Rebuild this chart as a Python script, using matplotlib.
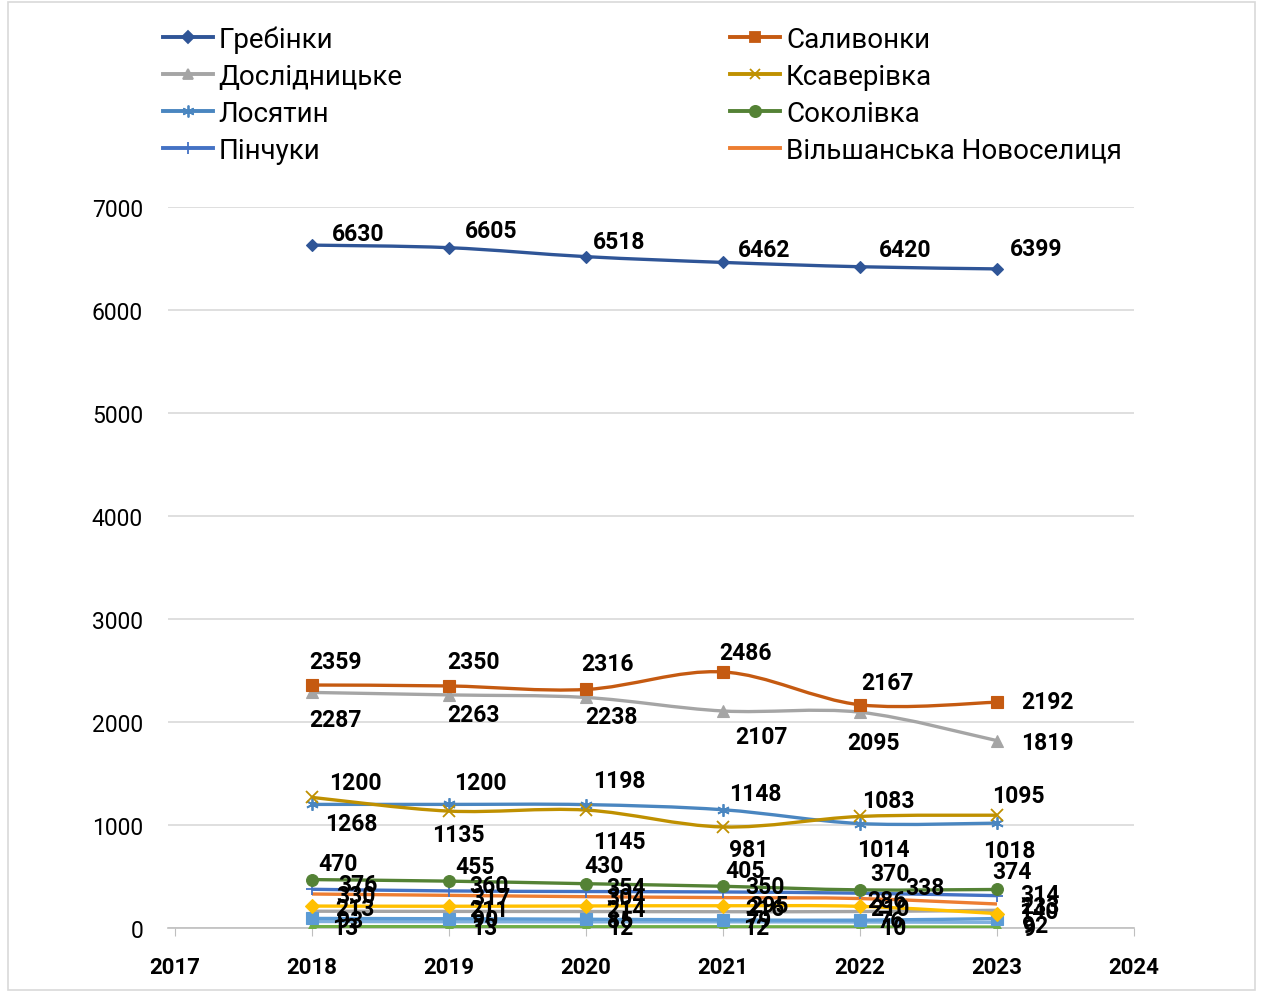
#! /usr/bin/env python3

import numpy as np
import matplotlib
matplotlib.use('Agg')
import matplotlib.pyplot as plt
from matplotlib.path import Path
from matplotlib.patches import PathPatch, Rectangle
from matplotlib.lines import Line2D

plt.rcParams['font.family'] = ['Roboto', 'DejaVu Sans']

years = [2018, 2019, 2020, 2021, 2022, 2023]

grebinky = [6630, 6605, 6518, 6462, 6420, 6399]
salyvonky = [2359, 2350, 2316, 2486, 2167, 2192]
doslidnytske = [2287, 2263, 2238, 2107, 2095, 1819]
ksaverivka = [1268, 1135, 1145, 981, 1083, 1095]
losiatyn = [1200, 1200, 1198, 1148, 1014, 1018]
sokolivka = [470, 455, 430, 405, 370, 374]
pinchuky = [376, 360, 354, 350, 338, 314]
vilshanska = [330, 317, 304, 295, 286, 233]
series_9 = [213, 211, 214, 216, 210, 140]
series_10 = [163, 161, 160, 158, 160, 172]
series_11 = [93, 90, 85, 79, 76, 92]
series_12 = [63, 61, 60, 60, 58, 55]
series_13 = [13, 13, 12, 12, 10, 9]

names = ['Гребінки', 'Саливонки', 'Дослідницьке', 'Ксаверівка', 'Лосятин',
         'Соколівка', 'Пінчуки', 'Вільшанська Новоселиця']

# (values, name, colour, marker, markersize, labelled)
series = [
    (grebinky, names[0], '#2F5597', 'D', 6.5, True),
    (salyvonky, names[1], '#C55A11', 's', 8, True),
    (doslidnytske, names[2], '#A5A5A5', '^', 8, True),
    (ksaverivka, names[3], '#BF9000', 'x', 8, True),
    (losiatyn, names[4], '#4A86C0', (6, 2, 0), 9, True),
    (sokolivka, names[5], '#548235', 'o', 8.5, True),
    (pinchuky, names[6], '#4472C4', '+', 9, True),
    (vilshanska, names[7], '#ED7D31', None, 0, True),
    (series_9, None, '#FFC000', 'D', 7, True),
    (series_10, None, '#A5A5A5', None, 0, False),
    (series_11, None, '#5B9BD5', 's', 8, True),
    (series_12, None, '#7FB0DE', None, 0, False),
    (series_13, None, '#70AD47', '^', 8, True),
]

# label offsets in pixels (label centre relative to point)
offsets = {
    0: [(46, 12), (42, 17), (33, 15), (41, 13), (45, 17), (39, 20)],
    1: [(23, 24), (25, 24), (21, 26), (23, 19), (27, 22), (50, 1)],
    2: [(23, -27), (25, -20), (26, -19), (39, -26), (14, -30), (50, -2)],
    3: [(39, -26), (9, -23), (33, -31), (26, -23), (28, 16), (21, 20)],
    4: [(43, 22), (31, 22), (33, 24), (32, 16), (23, -26), (12, -27)],
    5: [(26, 16), (26, 15), (18, 18), (22, 16), (30, 16), (15, 18)],
    6: [(46, 5), (40, 5), (40, 4), (42, 5), (65, 6), (43, 1)],
    7: [(44, -1), (42, -2), (40, -1), (46, -8), (27, -2), (43, -2)],
    8: [(43, -2), (40, -3), (40, -4), (42, -3), (30, -2), (42, 2)],
    10: [(38, -2), (36, -1), (34, -1), (35, -1), (30, 0), (38, -7)],
    12: [(33, -1), (35, -1), (34, -1), (33, -1), (33, -1), (33, -1)],
}


def smooth_path(xs, ys):
    # Excel-like smoothed line (Catmull-Rom as cubic Bezier)
    n = len(xs)
    verts = [(xs[0], ys[0])]
    codes = [Path.MOVETO]
    for i in range(n - 1):
        p0 = i - 1 if i > 0 else i
        p3 = i + 2 if i + 2 < n else i + 1
        c1 = (xs[i] + (xs[i + 1] - xs[p0]) / 6, ys[i] + (ys[i + 1] - ys[p0]) / 6)
        c2 = (xs[i + 1] - (xs[p3] - xs[i]) / 6, ys[i + 1] - (ys[p3] - ys[i]) / 6)
        verts += [c1, c2, (xs[i + 1], ys[i + 1])]
        codes += [Path.CURVE4] * 3
    return Path(verts, codes)


fig = plt.figure(figsize=(12.61, 9.95), dpi=100)
ax = fig.add_axes([168 / 1261, 1 - 929 / 995, (1134 - 168) / 1261, (929 - 208) / 995])

for idx in reversed(range(len(series))):
    vals, name, color, marker, ms, labelled = series[idx]
    patch = PathPatch(smooth_path(years, vals), facecolor='none', edgecolor=color,
                      lw=2.4, zorder=3 + (len(series) - idx) * 0.01)
    ax.add_patch(patch)
    if marker is not None:
        mew = 1.3 if marker in ('x', '+') or isinstance(marker, tuple) else 0.8
        ax.plot(years, vals, ls='none', marker=marker, ms=ms, color=color,
                mec=color, mew=mew, zorder=4)

for idx in range(len(series)):
    vals, name, color, marker, ms, labelled = series[idx]
    if not labelled or idx not in offsets:
        continue
    for k, (x, v) in enumerate(zip(years, vals)):
        dx, dy = offsets[idx][k]
        ax.annotate(str(v), (x, v), xytext=(dx, dy), textcoords='offset pixels',
                    ha='center', va='center', fontsize=16.5, fontweight='bold',
                    color='black', zorder=6)

ax.set_xlim(2017 - 7 / 137, 2024)
ax.set_ylim(0, 7000)
ax.set_xticks(range(2017, 2025))
ax.set_yticks(range(0, 7001, 1000))
ax.tick_params(axis='x', labelsize=16, length=6, color='#BFBFBF', pad=14)
ax.tick_params(axis='y', labelsize=16.5, length=0, pad=18)
for lbl in ax.get_xticklabels():
    lbl.set_fontweight('bold')
ax.grid(axis='y', color='#D9D9D9', lw=1.2)
ax.set_axisbelow(True)
for side in ['top', 'right', 'left']:
    ax.spines[side].set_visible(False)
ax.spines['bottom'].set_color('#BFBFBF')
ax.spines['bottom'].set_linewidth(1.2)

# legend: row-major order like the original
handles = []
for idx in range(8):
    vals, name, color, marker, ms, labelled = series[idx]
    handles.append(Line2D([], [], color=color, lw=2.8, marker=marker, ms=ms * 0.95,
                          mec=color, mew=1.3))
order = [0, 2, 4, 6, 1, 3, 5, 7]
fig.legend([handles[i] for i in order], [names[i] for i in order],
           loc='upper left', bbox_to_anchor=(152 / 1261, 1 - 15 / 995), ncol=2,
           frameon=False, fontsize=20, handlelength=1.8, handletextpad=0.2,
           labelspacing=0.36, columnspacing=11.8, borderaxespad=0)

fig.patches.append(Rectangle((8 / 1261, 4 / 995), 1247 / 1261, 988 / 995,
                             transform=fig.transFigure, fill=False,
                             edgecolor='#D9D9D9', lw=1.2))

fig.savefig('out.png', dpi=100)
